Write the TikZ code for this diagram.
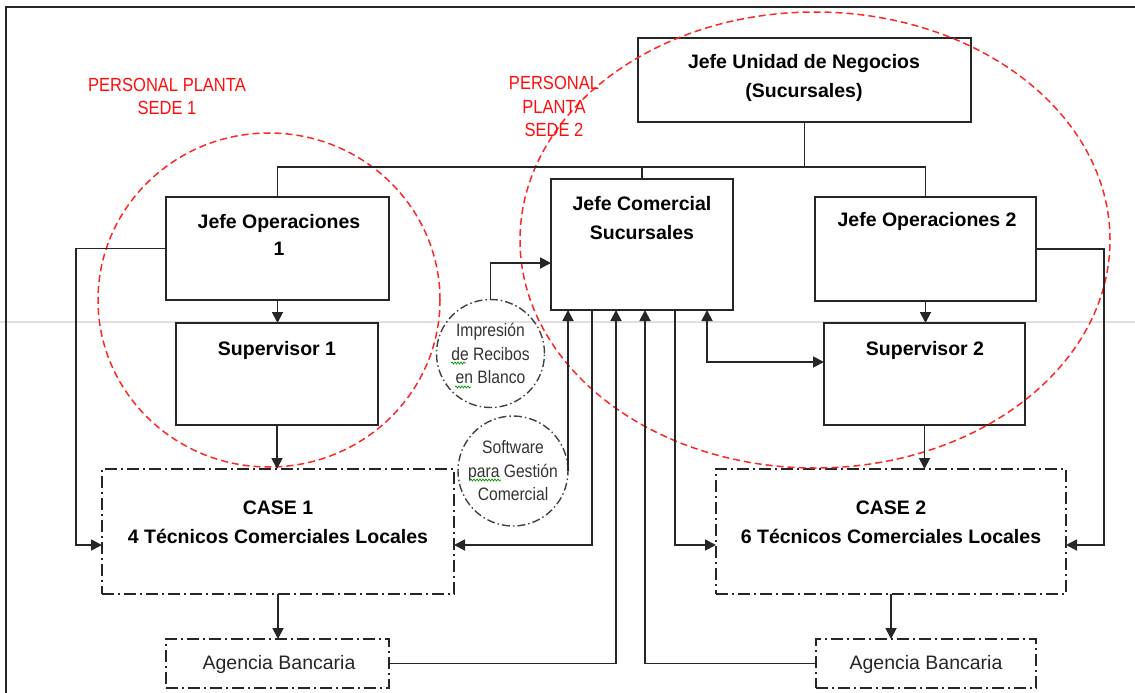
\documentclass[tikz,border=0pt]{standalone}
\usepackage{fontspec}
\setmainfont{Liberation Sans}
\newfontfamily\narrowfont[FakeStretch=0.87]{Liberation Sans}
\usetikzlibrary{arrows.meta,decorations.pathmorphing}

\begin{document}
\begin{tikzpicture}[x=1pt,y=-1pt,
  box/.style={rectangle, draw=black!85, line width=1.9pt, inner sep=0pt, outer sep=0pt},
  dbox/.style={box, line width=1.6pt, dash pattern=on 12pt off 4pt on 2pt off 4pt},
  bubble/.style={circle, draw=black!75, line width=1.4pt,
    dash pattern=on 8pt off 3pt on 1.5pt off 3pt, inner sep=0pt, outer sep=0pt,
    align=center, text=black!80, font=\narrowfont\fontsize{18}{23.5}\selectfont},
  lbl/.style={inner sep=0pt, align=center, font=\fontsize{19.5}{29}\selectfont\bfseries},
  plain/.style={inner sep=0pt, font=\fontsize{19.5}{23}\selectfont, text=black!85},
  redlbl/.style={inner sep=0pt, align=center, text=red!95!white,
    font=\narrowfont\fontsize{19}{23.5}\selectfont},
  conn/.style={draw=black!85, line width=1.8pt},
  arr/.style={conn, -{Triangle[length=11pt,width=11pt]}},
  darr/.style={conn, {Triangle[length=11pt,width=11pt]}-{Triangle[length=11pt,width=11pt]}},
  zone/.style={draw=red!85!white, line width=1.5pt, dash pattern=on 7pt off 4pt},
  squig/.style={green!60!black, line width=0.7pt, decorate,
    decoration={snake, amplitude=1pt, segment length=3pt}}
]
\useasboundingbox (0,0) rectangle (1135,693);

% page rule and outer frame
\draw[line width=1.3pt, black!12] (0,322) -- (1135,322);
\draw[line width=2.2pt, black!85] (6,693) -- (6,7) -- (1135,7);

% boxes
\node[box, minimum width=333pt, minimum height=84pt]  (jun) at (804.5,80) {};
\node[box, minimum width=182pt, minimum height=131pt] (jc)  at (642,244.5) {};
\node[box, minimum width=223pt, minimum height=103pt] (jo1) at (277.5,248.5) {};
\node[box, minimum width=221pt, minimum height=104pt] (jo2) at (925.5,249) {};
\node[box, minimum width=202pt, minimum height=102pt] (s1)  at (277,374) {};
\node[box, minimum width=201pt, minimum height=102pt] (s2)  at (924.5,374) {};
\node[dbox, minimum width=352pt, minimum height=125pt] (c1) at (278,531.5) {};
\node[dbox, minimum width=350pt, minimum height=125pt] (c2) at (891,531.5) {};
\node[dbox, minimum width=223pt, minimum height=49pt]  (a1) at (277.5,663.5) {};
\node[dbox, minimum width=220pt, minimum height=49pt]  (a2) at (926,663.5) {};

% box labels
\node[lbl] (junt) at (804,77.5) {Jefe Unidad de Negocios\\(Sucursales)};
\node[lbl] (jct)  at (642,218) {Jefe Comercial\\Sucursales};
\node[lbl] (jo1t) at (279,234.5) {Jefe Operaciones\\[-2pt]1};
\node[lbl] (jo2t) at (927,221) {Jefe Operaciones 2};
\node[lbl] (s1t)  at (277,350) {Supervisor 1};
\node[lbl] (s2t)  at (925,350) {Supervisor 2};
\node[lbl] (c1t)  at (278,522) {CASE 1\\4 Técnicos Comerciales Locales};
\node[lbl] (c2t)  at (891,522) {CASE 2\\6 Técnicos Comerciales Locales};
\node[plain] (a1t) at (279,664) {Agencia Bancaria};
\node[plain] (a2t) at (926,664) {Agencia Bancaria};

% support tools
\node[bubble, minimum size=108pt] (imp) at (490.5,353.5) {Impresión\\de Recibos\\en Blanco};
\node[bubble, minimum size=110pt] (sw)  at (513,471) {Software\\para Gestión\\Comercial};
\draw[squig] (451,363) -- (466,363);
\draw[squig] (455,387) -- (471,387);
\draw[squig] (470,480) -- (501,480);

% site groupings
\draw[zone] (269,300) ellipse [x radius=171pt, y radius=167pt];
\draw[zone] (815,240) ellipse [x radius=295pt, y radius=228pt];
\node[redlbl] (sede1) at (167,96.5) {PERSONAL PLANTA\\SEDE 1};
\node[redlbl] (sede2) at (554,106.5) {PERSONAL\\PLANTA\\SEDE 2};

% hierarchy bus
\coordinate (bus) at (804.5,167);
\draw[conn] (jun.south) -- (bus);
\draw[conn] (bus) -| (jo1.north);
\draw[conn] (bus) -| (jo2.north);
\draw[conn] (jc.north) -- (jc.north |- bus);

% vertical chains
\draw[arr] (jo1.south) -- (jo1.south |- s1.north);
\draw[arr] (s1.south) -- (s1.south |- c1.north);
\draw[arr] (c1.south) -- (c1.south |- a1.north);
\draw[arr] (jo2.south) -- (jo2.south |- s2.north);
\draw[arr] (s2.south) -- (s2.south |- c2.north);
\draw[arr] (c2.south) -- (c2.south |- a2.north);

% side loops from the operations heads
\coordinate (lb) at (76,545);
\coordinate (rb) at (1104,545);
\draw[arr] (jo1.west) -| (lb) -- (lb -| c1.west);
\draw[arr] (jo2.east) -| (rb) -- (rb -| c2.east);

% commercial head links
\coordinate (k1) at (592,545);
\coordinate (k2) at (675,545);
\coordinate (k3) at (616,663.5);
\coordinate (k4) at (645,663.5);
\coordinate (k5) at (707,362);
\coordinate (k6) at (490.5,263);
\draw[arr] (k1 |- jc.south) -- (k1) -- (k1 -| c1.east);
\draw[arr] (k2 |- jc.south) -- (k2) -- (k2 -| c2.west);
\draw[arr] (a1.east) -- (k3) -- (k3 |- jc.south);
\draw[arr] (a2.west) -- (k4) -- (k4 |- jc.south);
\draw[darr] (k5 |- jc.south) -- (k5) -- (k5 -| s2.west);
\draw[arr] (imp.north) -- (k6) -- (k6 -| jc.west);
\draw[arr] (sw.east) -- (sw.east |- jc.south);
\end{tikzpicture}
\end{document}
